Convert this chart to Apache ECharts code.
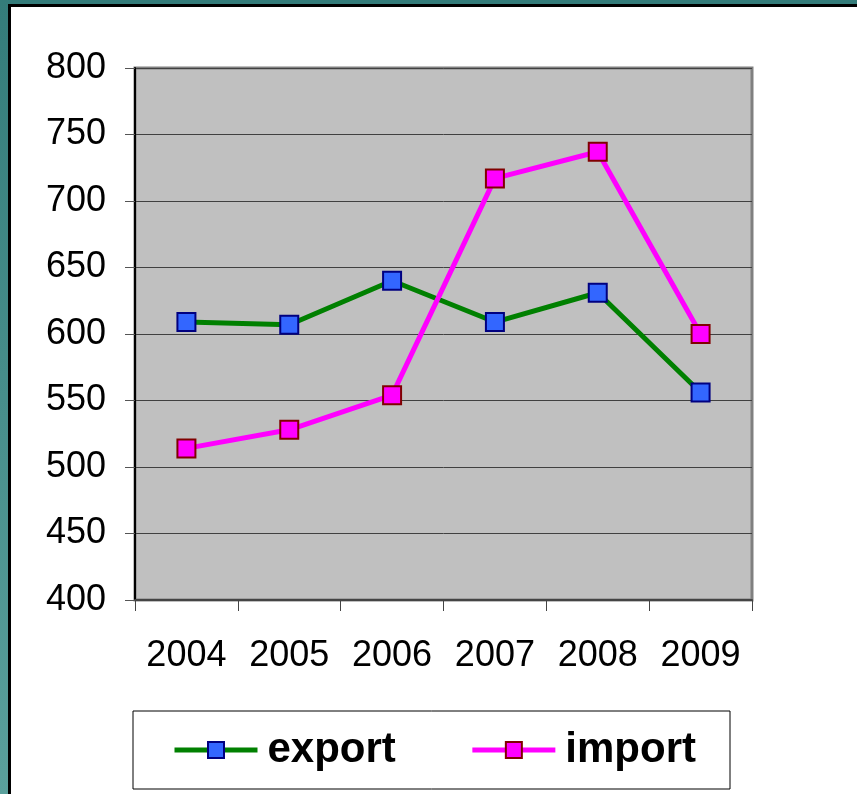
<!DOCTYPE html>
<html>
<head>
<meta charset="utf-8">
<script src="https://cdn.jsdelivr.net/npm/echarts@6/dist/echarts.min.js"></script>
<style>
html,body{margin:0;padding:0;background:#fff;}
#chart{position:absolute;left:0;top:0;width:857px;height:794px;}
.frame{position:absolute;pointer-events:none;}
</style>
</head>
<body>
<div id="chart"></div>
<!-- teal frame on the top and left, with a black inner edge -->
<div class="frame" style="left:0;top:0;width:857px;height:4px;background:#347c7a;"></div>
<div class="frame" style="left:0;top:0;width:8px;height:794px;background:linear-gradient(#347c7a,#5aa09c);"></div>
<div class="frame" style="left:8px;top:4px;width:849px;height:3px;background:#000;"></div>
<div class="frame" style="left:8px;top:4px;width:3px;height:790px;background:#000;"></div>
<script>
// data
var years = ['2004', '2005', '2006', '2007', '2008', '2009'];
var exportData = [609, 607, 640, 609, 631, 556];
var importData = [514, 528, 554, 717, 737, 600];
var yTicks = {min: 400, max: 800, step: 50};

var chart = echarts.init(document.getElementById('chart'));

var option = {
	animation: false,
	textStyle: {fontFamily: 'Liberation Sans, Arial, sans-serif'},
	grid: {
		left: 135,
		right: 105,
		top: 68,
		bottom: 194,
		show: true,
		backgroundColor: '#c0c0c0',
		borderColor: '#808080',
		borderWidth: 3
	},
	legend: {
		left: 133,
		top: 711,
		padding: [18, 34, 18, 39],
		borderColor: '#000',
		borderWidth: 1,
		itemWidth: 83,
		itemHeight: 20,
		itemGap: 74,
		lineStyle: {width: 5},
		textStyle: {fontSize: 42, fontWeight: 'bold', color: '#000', padding: [0, 0, 0, 5]},
		data: ['export', 'import']
	},
	xAxis: {
		type: 'category',
		data: years,
		boundaryGap: true,
		axisLine: {lineStyle: {color: '#444', width: 2}},
		axisTick: {show: true, interval: 0, length: 11, lineStyle: {color: '#444', width: 1}},
		axisLabel: {fontSize: 36, color: '#000', margin: 38, interval: 0, hideOverlap: false},
		splitLine: {show: false}
	},
	yAxis: {
		type: 'value',
		min: yTicks.min,
		max: yTicks.max,
		interval: yTicks.step,
		axisLine: {show: true, lineStyle: {color: '#000', width: 2}},
		axisTick: {show: true, length: 10, lineStyle: {color: '#555', width: 1}},
		axisLabel: {fontSize: 36, color: '#000', margin: 29},
		splitLine: {show: true, lineStyle: {color: '#404040', width: 1}}
	},
	series: [
		{
			name: 'export',
			type: 'line',
			data: exportData,
			symbol: 'rect',
			symbolSize: 18,
			lineStyle: {color: '#008000', width: 5},
			itemStyle: {color: '#3366ff', borderColor: '#000080', borderWidth: 2},
			z: 3
		},
		{
			name: 'import',
			type: 'line',
			data: importData,
			symbol: 'rect',
			symbolSize: 18,
			lineStyle: {color: '#ff00ff', width: 5},
			itemStyle: {color: '#ff00ff', borderColor: '#800000', borderWidth: 2},
			z: 4
		}
	]
};
chart.setOption(option);
</script>
</body>
</html>
